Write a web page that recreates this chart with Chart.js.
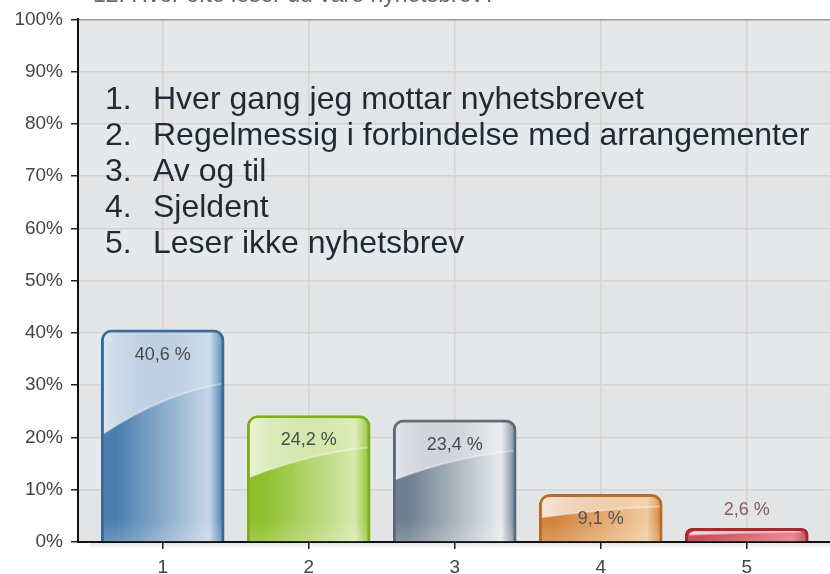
<!DOCTYPE html>
<html>
<head>
<meta charset="utf-8">
<script src="https://cdn.jsdelivr.net/npm/chart.js@4.4.0/dist/chart.umd.min.js"></script>
<style>
  html, body { margin: 0; padding: 0; background: #fff; }
  #wrap { width: 830px; height: 574px; }
</style>
</head>
<body>
<div id="wrap"><canvas id="chart" width="830" height="574"></canvas></div>
<script>
// Data
const categories = ["1", "2", "3", "4", "5"];
const shares = [40.6, 24.2, 23.4, 9.1, 2.6];
const answers = [
  "Hver gang jeg mottar nyhetsbrevet",
  "Regelmessig i forbindelse med arrangementer",
  "Av og til",
  "Sjeldent",
  "Leser ikke nyhetsbrev",
];
const yTicks = [0, 10, 20, 30, 40, 50, 60, 70, 80, 90, 100];
const title = "12. Hvor ofte leser du våre nyhetsbrev?";

// Bar colours (left shade, right shade, border, label)
const barDark = ["#4a7eaf", "#8dbf2a", "#6e7f90", "#d3823a", "#c0313b"];
const barLight = ["#c6d7e7", "#d6e9ad", "#e7ebef", "#f1cb9c", "#e27a80"];
const barBorder = ["#3b6c99", "#7eae20", "#5b6b7b", "#b56e28", "#a7282f"];
const labelColors = ["#4a4a4a", "#4a4a4a", "#4a4a4a", "#555555", "#8a5661"];

const FONT = "'Liberation Sans', Arial, sans-serif";

function barFill(ctx) {
  const i = ctx.dataIndex;
  const chart = ctx.chart;
  if (ctx.type !== "data" || !chart.scales.x) return barDark[i || 0];
  const cx = chart.scales.x.getPixelForValue(i + 1);
  if (!isFinite(cx)) return barDark[i];
  const g = chart.ctx.createLinearGradient(cx - 61, 0, cx + 61, 0);
  g.addColorStop(0, barDark[i]);
  g.addColorStop(0.12, barDark[i]);
  g.addColorStop(0.88, barLight[i]);
  g.addColorStop(1, barDark[i]);
  return g;
}

// Plot background with alternating bands
const bandsPlugin = {
  id: "bands",
  beforeDraw(chart) {
    const c = chart.ctx;
    const a = chart.chartArea;
    const y = chart.scales.y;
    c.save();
    c.fillStyle = "#e6e9ec";
    c.fillRect(a.left, a.top, a.right - a.left, a.bottom - a.top);
    c.fillStyle = "#e3e4e6";
    for (let k = 0; k < yTicks.length - 1; k += 2) {
      const y0 = y.getPixelForValue(yTicks[k]);
      const y1 = y.getPixelForValue(yTicks[k + 1]);
      c.fillRect(a.left, y1, a.right - a.left, y0 - y1);
    }
    c.restore();
  },
};

// Gloss, value labels and the answer list
const overlayPlugin = {
  id: "overlay",
  afterDatasetsDraw(chart) {
    const c = chart.ctx;
    const meta = chart.getDatasetMeta(0);

    meta.data.forEach(function (bar, i) {
      const p = bar.getProps(["x", "y", "base", "width"], true);
      const h = p.base - p.y;
      const left = p.x - p.width / 2 + 2.5;
      const right = p.x + p.width / 2 - 2.5;
      const top = p.y + 2.5;

      c.save();
      c.beginPath();
      c.roundRect(left, top, right - left, p.base - top, [8, 8, 0, 0]);
      c.clip();

      // upper sheen
      c.beginPath();
      c.moveTo(left, top);
      c.lineTo(right, top);
      c.lineTo(right, p.y + h * 0.255);
      c.quadraticCurveTo(p.x, p.y + h * 0.305, left, p.y + h * 0.49);
      c.closePath();
      const g = c.createLinearGradient(left, 0, right, 0);
      g.addColorStop(0, "rgba(255,255,255,0.8)");
      g.addColorStop(0.5, "rgba(255,255,255,0.45)");
      g.addColorStop(1, "rgba(255,255,255,0.1)");
      c.fillStyle = g;
      c.fill();

      // sheen edge
      c.beginPath();
      c.moveTo(right, p.y + h * 0.255);
      c.quadraticCurveTo(p.x, p.y + h * 0.305, left, p.y + h * 0.49);
      c.strokeStyle = "rgba(255,255,255,0.35)";
      c.lineWidth = 2;
      c.stroke();

      // soft bottom reflection
      const rg = c.createLinearGradient(0, p.base - 22, 0, p.base);
      rg.addColorStop(0, "rgba(255,255,255,0)");
      rg.addColorStop(1, "rgba(255,255,255,0.18)");
      c.fillStyle = rg;
      c.fillRect(left, Math.max(top, p.base - 22), right - left, 22);
      c.restore();

      // value label
      const text = shares[i].toFixed(1).replace(".", ",") + " %";
      c.save();
      c.font = "18px " + FONT;
      c.fillStyle = labelColors[i];
      c.textAlign = "center";
      c.textBaseline = "middle";
      const ly = h > 40 ? p.y + 25 : p.y - 18;
      c.fillText(text, p.x, ly);
      c.restore();
    });

    // answer list
    c.save();
    c.font = "32px " + FONT;
    c.fillStyle = "#1f2a33";
    c.textBaseline = "middle";
    answers.forEach(function (t, i) {
      const ly = 100 + i * 36;
      c.fillText(i + 1 + ".", 105, ly);
      c.fillText(t, 153, ly);
    });
    c.restore();
  },
  afterDraw(chart) {
    const c = chart.ctx;
    const a = chart.chartArea;
    c.save();
    // shadow under x axis
    const sg = c.createLinearGradient(0, a.bottom + 1, 0, a.bottom + 7);
    sg.addColorStop(0, "rgba(0,0,0,0.10)");
    sg.addColorStop(1, "rgba(0,0,0,0)");
    c.fillStyle = sg;
    c.fillRect(a.left + 12, a.bottom + 1, a.right - a.left, 6);
    // cropped title
    c.font = "23px " + FONT;
    c.fillStyle = "#666";
    c.textBaseline = "alphabetic";
    c.fillText(title, 93, 2);
    c.restore();
  },
};

const ctx = document.getElementById("chart").getContext("2d");

new Chart(ctx, {
  type: "bar",
  data: {
    datasets: [
      {
        data: categories.map(function (c, i) {
          return { x: i + 1, y: shares[i] };
        }),
        backgroundColor: barFill,
        borderColor: barBorder,
        borderWidth: 3,
        borderRadius: { topLeft: 11, topRight: 11, bottomLeft: 0, bottomRight: 0 },
        borderSkipped: "bottom",
        barThickness: 123,
      },
    ],
  },
  options: {
    responsive: false,
    animation: false,
    layout: { padding: { top: 12, right: 0, left: 0, bottom: 0 } },
    plugins: {
      legend: { display: false },
      tooltip: { enabled: false },
    },
    scales: {
      x: {
        type: "linear",
        offset: false,
        min: 0.42,
        max: 5.57,
        afterBuildTicks: function (axis) {
          axis.ticks = categories.map(function (c, i) {
            return { value: i + 1 };
          });
        },
        afterFit: function (axis) {
          axis.height = 32;
        },
        grid: {
          offset: false,
          color: "#d4d4d4",
          lineWidth: 1.5,
          tickColor: "#222",
          tickLength: 7,
        },
        border: { display: true, color: "#111", width: 2 },
        ticks: {
          padding: 7,
          color: "#444",
          font: { family: FONT, size: 19 },
          callback: function (v, i) {
            return categories[i];
          },
        },
      },
      y: {
        min: 0,
        max: 100,
        afterBuildTicks: function (axis) {
          axis.ticks = yTicks.map(function (v) {
            return { value: v };
          });
        },
        afterFit: function (axis) {
          axis.width = 78;
        },
        grid: {
          color: function (c) {
            return c.tick && c.tick.value === 100 ? "#9a9a9a" : "#d4d4d4";
          },
          lineWidth: 1.5,
          tickColor: "#222",
          tickLength: 7,
        },
        border: { display: true, color: "#111", width: 2 },
        ticks: {
          padding: 8,
          color: "#444",
          font: { family: FONT, size: 19 },
          callback: function (v) {
            return v + "%";
          },
        },
      },
    },
  },
  plugins: [bandsPlugin, overlayPlugin],
});
</script>
</body>
</html>
